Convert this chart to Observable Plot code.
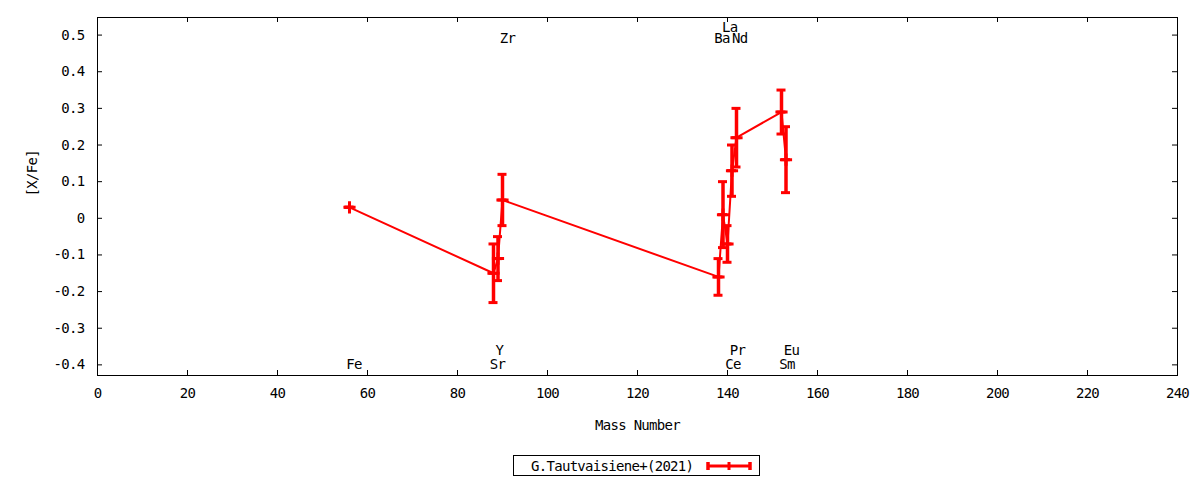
<!DOCTYPE html>
<html>
<head>
<meta charset="utf-8">
<script src="https://cdn.jsdelivr.net/npm/d3@7"></script>
<script src="https://cdn.jsdelivr.net/npm/@observablehq/plot@0.6"></script>
<style>
  html, body { margin: 0; padding: 0; background: #fff; }
  #wrap { position: relative; width: 1200px; height: 480px; font-family: "DejaVu Sans Mono", monospace; }
  #legend { position: absolute; left: 513px; top: 455px; width: 247px; height: 21px; box-sizing: border-box;
    border: 1px solid #000; font-size: 14px; letter-spacing: -0.7px; display: flex; align-items: center; }
  #legend span { margin-left: 17px; }
  #legend svg { margin-left: 13px; }
</style>
</head>
<body>
<div id="wrap"><div id="chart"></div><div id="legend"><span>G.Tautvaisiene+(2021)</span></div></div>
<script>
const elements = ["Fe","Sr","Y","Zr","Ba","La","Ce","Pr","Nd","Sm","Eu"];
const massNumber = [56,88,89,90,138,139,140,141,142,152,153];
const xfe = [0.03,-0.15,-0.11,0.05,-0.16,0.01,-0.07,0.13,0.22,0.29,0.16];
const xfeErr = [0,0.08,0.06,0.07,0.05,0.09,0.05,0.07,0.08,0.06,0.09];
const labelX = [57.0,88.9,89.3,91.1,138.8,140.5,141.2,142.2,142.7,153.2,154.2];
const labelY = [-0.40,-0.40,-0.36,0.49,0.49,0.52,-0.40,-0.36,0.49,-0.40,-0.36];
const xTicks = [0,20,40,60,80,100,120,140,160,180,200,220,240];
const yTicks = [-0.4,-0.3,-0.2,-0.1,0,0.1,0.2,0.3,0.4,0.5];
const seriesName = "G.Tautvaisiene+(2021)";

const data = elements.map((el, i) => ({el, mass: massNumber[i], val: xfe[i], err: xfeErr[i]}));
const labels = elements.map((el, i) => ({el, x: labelX[i], y: labelY[i]}));
const capHalf = 1;
const fmtY = d => d === 0 ? "0" : d.toFixed(1).replace("\u2212", "-");
const red = "#ff0000";
const yMin = -0.429, yMax = 0.548;
const tickLenY = 5 / 366.7, tickLenX = 5 / 4.5;

const chart = Plot.plot({
  width: 1200,
  height: 445,
  marginLeft: 97,
  marginRight: 23,
  marginTop: 17,
  marginBottom: 70,
  style: {fontFamily: "DejaVu Sans Mono, monospace", fontSize: "14px", letterSpacing: "-0.7px", color: "#000", background: "#fff"},
  x: {domain: [0, 240]},
  y: {domain: [yMin, yMax]},
  marks: [
    Plot.axisX({anchor: "bottom", ticks: xTicks, tickSize: 0, tickPadding: 13, label: null, tickFormat: d => String(d)}),
    Plot.ruleX(xTicks.slice(1, -1), {x: d => d, y1: yMin, y2: yMin + tickLenY, stroke: "#000"}),
    Plot.ruleX(xTicks.slice(1, -1), {x: d => d, y1: yMax - tickLenY, y2: yMax, stroke: "#000"}),
    Plot.axisY({anchor: "left", ticks: yTicks, tickSize: 0, tickPadding: 13, label: null, tickFormat: fmtY}),
    Plot.ruleY(yTicks, {y: d => d, x1: 0, x2: tickLenX, stroke: "#000"}),
    Plot.ruleY(yTicks, {y: d => d, x1: 240 - tickLenX, x2: 240, stroke: "#000"}),
    Plot.frame({stroke: "#000", strokeWidth: 1}),
    Plot.text(["[X/Fe]"], {frameAnchor: "left", dx: -65, rotate: -90, fill: "#000"}),
    Plot.text(["Mass Number"], {frameAnchor: "bottom", dy: 54, fill: "#000"}),
    Plot.line(data, {x: "mass", y: "val", stroke: red, strokeWidth: 2}),
    Plot.ruleX(data, {x: "mass", y1: d => d.val - d.err, y2: d => d.val + d.err, stroke: red, strokeWidth: 3.5}),
    Plot.ruleY(data, {y: d => d.val + d.err, x1: d => d.mass - capHalf, x2: d => d.mass + capHalf, stroke: red, strokeWidth: 3}),
    Plot.ruleY(data, {y: d => d.val - d.err, x1: d => d.mass - capHalf, x2: d => d.mass + capHalf, stroke: red, strokeWidth: 3}),
    Plot.ruleY(data, {y: "val", x1: d => d.mass - capHalf, x2: d => d.mass + capHalf, stroke: red, strokeWidth: 3}),
    Plot.dot(data, {x: "mass", y: "val", symbol: "plus", r: 4, stroke: red, strokeWidth: 3, fill: "none"}),
    Plot.text(labels, {x: "x", y: "y", text: "el", fill: "#000", textAnchor: "middle"})
  ]
});
document.getElementById("chart").appendChild(chart);

// legend sample (errorbar line key)
const ns = "http://www.w3.org/2000/svg";
const lg = document.createElementNS(ns, "svg");
lg.setAttribute("width", 46); lg.setAttribute("height", 12);
lg.innerHTML = `<line x1="2" y1="6" x2="44" y2="6" stroke="${red}" stroke-width="3"/>
<line x1="2" y1="2" x2="2" y2="10" stroke="${red}" stroke-width="3.5"/>
<line x1="44" y1="2" x2="44" y2="10" stroke="${red}" stroke-width="3.5"/>
<line x1="23" y1="2" x2="23" y2="10" stroke="${red}" stroke-width="3"/>`;
document.getElementById("legend").appendChild(lg);
</script>
</body>
</html>
